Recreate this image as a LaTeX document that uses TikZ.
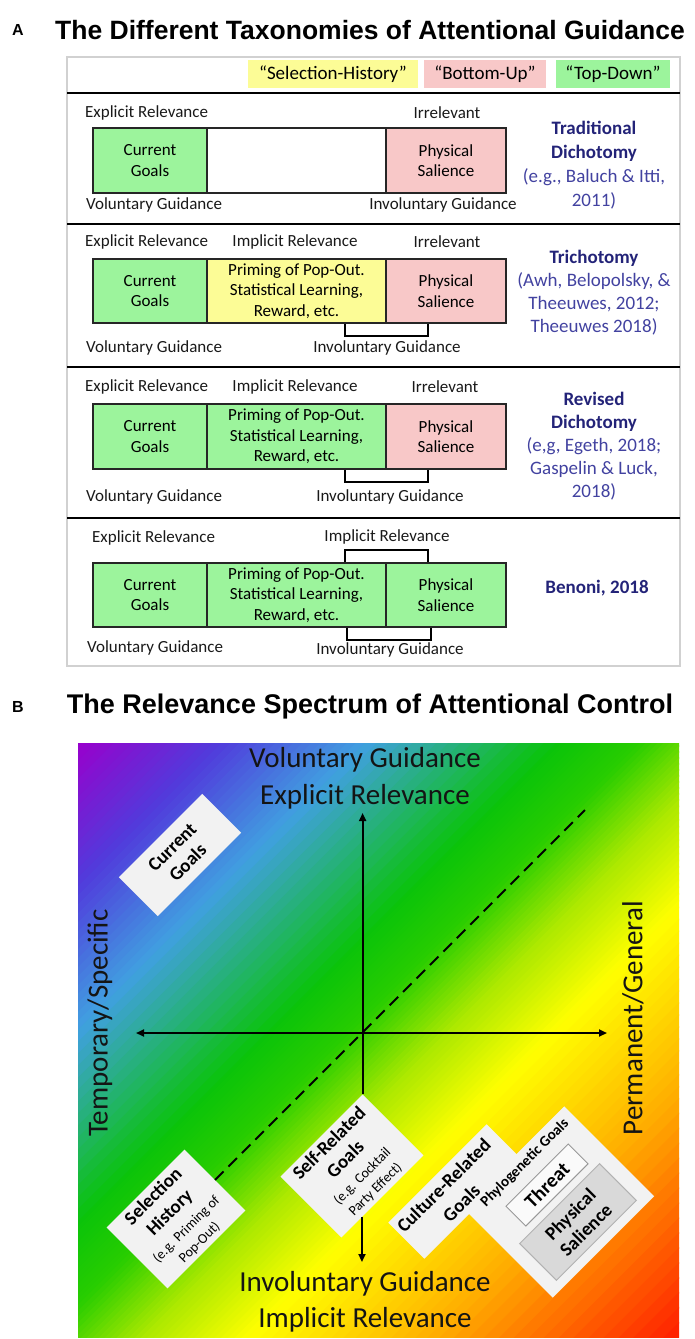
\documentclass[tikz,border=0pt]{standalone}
\usepackage{fontspec}
\setmainfont{Carlito}
\newfontfamily\arialfont{Liberation Sans}
\usetikzlibrary{arrows.meta,calc}
\newcommand{\fsz}[2]{\fontsize{#1}{#2}\selectfont}
\definecolor{cgreen}{RGB}{156,244,156}
\definecolor{cpink}{RGB}{248,200,200}
\definecolor{cyellow}{RGB}{252,252,150}
\definecolor{navy}{RGB}{35,35,120}
\definecolor{citeblue}{RGB}{66,66,160}
\definecolor{diafill}{RGB}{242,242,242}
\definecolor{g0}{RGB}{153,0,204}
\definecolor{g1}{RGB}{80,60,220}
\definecolor{g2}{RGB}{64,160,224}
\definecolor{g3}{RGB}{10,195,10}
\definecolor{g4}{RGB}{40,205,0}
\definecolor{g5}{RGB}{170,232,0}
\definecolor{g6}{RGB}{255,255,0}
\definecolor{g7}{RGB}{255,170,0}
\definecolor{g8}{RGB}{255,30,0}
\begin{document}
\begin{tikzpicture}[x=1pt,y=-1pt,
  lbl/.style={font=\fsz{17}{20}, inner sep=0pt, text=black!90},
  cell/.style={draw=black!85, line width=1.1pt, inner sep=0pt, align=center, font=\fsz{17}{20.5}},
  leg/.style={minimum height=28pt, inner sep=0pt, font=\fsz{19}{22}},
  cite/.style={align=center, inner sep=0pt, text=citeblue},
  sepline/.style={line width=2.2pt},
  brk/.style={line width=2pt},
  big/.style={font=\fsz{29}{34}, inner sep=0pt, text=black!92},
  dbox/.style={fill=diafill, rotate=45, inner sep=0pt, align=center},
  axisline/.style={line width=1.8pt},
  tip/.style={-{Triangle[length=8pt,width=7pt]}},
  dashline/.style={line width=2pt, dash pattern=on 12pt off 7pt}
]
\useasboundingbox (0,0) rectangle (694,1339);

% ---------------- Panel A ----------------
\node[inner sep=0pt, font=\arialfont\bfseries\fsz{16}{18}] (labA) at (18,30) {A};
\node[inner sep=0pt, font=\arialfont\bfseries\fsz{26.5}{30}] (titleA) at (370,30) {The Different Taxonomies of Attentional Guidance};
\node[draw=black!18, line width=1.5pt, minimum width=613pt, minimum height=609pt, inner sep=0pt] (panelA) at (373.5,361.5) {};

\node[leg, fill=cyellow, minimum width=170pt] (lg1) at (333,74) {“Selection-History”};
\node[leg, fill=cpink, minimum width=122pt] (lg2) at (485,74) {“Bottom-Up”};
\node[leg, fill=cgreen, minimum width=114pt] (lg3) at (613,74) {“Top-Down”};

\foreach \yy in {93,224,367,518} {\draw[sepline] (67,\yy) -- (680,\yy);}

% Section 1
\node[lbl, anchor=west] (e1) at (85,113) {Explicit Relevance};
\node[lbl] (ir1) at (447,113) {Irrelevant};
\node[cell, fill=cgreen, minimum width=114pt, minimum height=65pt] (s1a) at (150,160.5) {Current\\Goals};
\node[cell, minimum width=179pt, minimum height=65pt] (s1b) at (296.5,160.5) {};
\node[cell, fill=cpink, minimum width=120pt, minimum height=65pt] (s1c) at (446,160.5) {Physical\\Salience};
\node[lbl, anchor=west] (v1) at (86,205) {Voluntary Guidance};
\node[lbl] (iv1) at (443,205) {Involuntary Guidance};
\node[cite, font=\fsz{19}{24}] (r1) at (594,165) {\textcolor{navy}{\bfseries Traditional}\\\textcolor{navy}{\bfseries Dichotomy}\\(e.g., Baluch \& Itti,\\2011)};

% Section 2
\node[lbl, anchor=west] (e2) at (85,242) {Explicit Relevance};
\node[lbl] (im2) at (295,242) {Implicit Relevance};
\node[lbl] (ir2) at (447,242) {Irrelevant};
\node[cell, fill=cgreen, minimum width=114pt, minimum height=64pt] (s2a) at (150,291) {Current\\Goals};
\node[cell, fill=cyellow, minimum width=179pt, minimum height=64pt] (s2b) at (296.5,291) {Priming of Pop-Out.\\Statistical Learning,\\Reward, etc.};
\node[cell, fill=cpink, minimum width=120pt, minimum height=64pt] (s2c) at (446,291) {Physical\\Salience};
\draw[brk] ($(s2b.south west)!0.77!(s2b.south east)$) -- ++(0,12) -| ($(s2c.south west)!0.35!(s2c.south east)$);
\node[lbl, anchor=west] (v2) at (86,348) {Voluntary Guidance};
\node[lbl] (iv2) at (387,348) {Involuntary Guidance};
\node[cite, font=\fsz{19}{23}] (r2) at (594,292.5) {\textcolor{navy}{\bfseries Trichotomy}\\(Awh, Belopolsky, \&\\Theeuwes, 2012;\\Theeuwes 2018)};

% Section 3
\node[lbl, anchor=west] (e3) at (85,387) {Explicit Relevance};
\node[lbl] (im3) at (295,387) {Implicit Relevance};
\node[lbl] (ir3) at (445,387) {Irrelevant};
\node[cell, fill=cgreen, minimum width=114pt, minimum height=65pt] (s3a) at (150,436.5) {Current\\Goals};
\node[cell, fill=cgreen, minimum width=179pt, minimum height=65pt] (s3b) at (296.5,436.5) {Priming of Pop-Out.\\Statistical Learning,\\Reward, etc.};
\node[cell, fill=cpink, minimum width=120pt, minimum height=65pt] (s3c) at (446,436.5) {Physical\\Salience};
\draw[brk] ($(s3b.south west)!0.77!(s3b.south east)$) -- ++(0,12) -| ($(s3c.south west)!0.35!(s3c.south east)$);
\node[lbl, anchor=west] (v3) at (86,497) {Voluntary Guidance};
\node[lbl] (iv3) at (390,497) {Involuntary Guidance};
\node[cite, font=\fsz{19}{23}] (r3) at (594,446.5) {\textcolor{navy}{\bfseries Revised}\\\textcolor{navy}{\bfseries Dichotomy}\\(e,g, Egeth, 2018;\\Gaspelin \& Luck,\\2018)};

% Section 4
\node[lbl, anchor=west] (e4) at (92,538) {Explicit Relevance};
\node[lbl] (im4) at (387,537) {Implicit Relevance};
\node[cell, fill=cgreen, minimum width=114pt, minimum height=64pt] (s4a) at (150,595) {Current\\Goals};
\node[cell, fill=cgreen, minimum width=179pt, minimum height=64pt] (s4b) at (296.5,595) {Priming of Pop-Out.\\Statistical Learning,\\Reward, etc.};
\node[cell, fill=cgreen, minimum width=120pt, minimum height=64pt] (s4c) at (446,595) {Physical\\Salience};
\draw[brk] ($(s4b.north west)!0.77!(s4b.north east)$) -- ++(0,-12) -| ($(s4c.north west)!0.35!(s4c.north east)$);
\draw[brk] ($(s4b.south west)!0.78!(s4b.south east)$) -- ++(0,12) -| ($(s4c.south west)!0.38!(s4c.south east)$);
\node[lbl, anchor=west] (v4) at (87,648) {Voluntary Guidance};
\node[lbl] (iv4) at (390,650) {Involuntary Guidance};
\node[cite, font=\fsz{19}{23}] (r4) at (597,588) {\textcolor{navy}{\bfseries Benoni, 2018}};

% ---------------- Panel B ----------------
\node[inner sep=0pt, font=\arialfont\bfseries\fsz{16}{18}] (labB) at (18,707) {B};
\node[inner sep=0pt, font=\arialfont\bfseries\fsz{27}{30}] (titleB) at (370,707) {The Relevance Spectrum of Attentional Control};

\begin{scope}
\clip (78,743) rectangle (679,1337);
\foreach \ta/\tb/\ca/\cb in {0/0.12/g0/g1, 0.12/0.24/g1/g2, 0.24/0.40/g2/g3, 0.40/0.47/g3/g4, 0.47/0.55/g4/g5, 0.55/0.64/g5/g6, 0.64/0.80/g6/g7, 0.80/1.0/g7/g8} {
  \foreach \k in {0,...,15} {
    \pgfmathsetmacro\sa{(\ta+(\tb-\ta)*\k/16)*1195}
    \pgfmathsetmacro\sb{(\ta+(\tb-\ta)*(\k+1)/16)*1195+1.5}
    \pgfmathtruncatemacro\pp{(\k+0.5)*100/16}
    \fill[\cb!\pp!\ca] (78+\sa,743) -- (78+\sb,743) -- (78,743+\sb) -- (78,743+\sa) -- cycle;
  }
}
\end{scope}

\node[big] (vg) at (365,760) {Voluntary Guidance};
\node[big] (er) at (365,797) {Explicit Relevance};
\node[big] (ig) at (365,1284) {Involuntary Guidance};
\node[big] (irb) at (365,1320) {Implicit Relevance};
\node[big, rotate=90] (ts) at (100,1023) {Temporary/Specific};
\node[big, rotate=90] (pg) at (633,1018) {Permanent/General};

% diamonds (shapes only first)
\node[dbox, minimum width=118pt, minimum height=55pt, font=\bfseries\fsz{19}{22}] (cg) at (180,855) {Current\\Goals};
\node[dbox, minimum width=110pt, minimum height=86pt] (sh) at (176,1219) {};
\node[dbox, minimum width=116pt, minimum height=86pt] (sr) at (352,1166) {};
\node[dbox, minimum width=139pt, minimum height=51pt] (cr) at (455.5,1191.5) {};
\node[dbox, minimum width=143.5pt, minimum height=127pt] (ph) at (558.5,1202) {};

% connectors
\coordinate (vtop) at (362,813);
\coordinate (hl) at (136,1033);
\coordinate (hr) at (607,1033);
\coordinate (vbot) at (362,1262);
\coordinate (dtop) at (585,810);
\coordinate (vbot0) at ($(sr.south west)!0.25!(sr.south east)$);
\draw[axisline, tip] (sr.north east) -- (sr.north east |- vtop);
\draw[axisline, {Triangle[length=8pt,width=7pt]}-{Triangle[length=8pt,width=7pt]}] (hl) -- (hr);
\draw[axisline, tip] (vbot0) -- (vbot0 |- vbot);
\draw[dashline] (sh.east) -- (dtop);

% texts in diamonds
\node[rotate=45, inner sep=0pt, align=center, font=\bfseries\fsz{19}{23}] (sht) at (sh) {Selection\\History\\[-1pt]{\mdseries\fsz{14}{17}(e.g. Priming of}\\[-4.5pt]{\mdseries\fsz{14}{17}Pop-Out)}};
\node[rotate=45, inner sep=0pt, align=center, font=\bfseries\fsz{19}{23}] (srt) at (sr) {Self-Related\\Goals\\[-1pt]{\mdseries\fsz{14}{17}(e.g. Cocktail}\\[-4.5pt]{\mdseries\fsz{14}{17}Party Effect)}};
\node[rotate=45, inner sep=0pt, align=center, font=\bfseries\fsz{19}{25}] (crt) at (452.5,1194) {Culture-Related\\Goals};
\node[rotate=45, inner sep=0pt, font=\bfseries\fsz{15}{18}] (pht) at (525,1163) {Phylogenetic Goals};
\node[dbox, fill=black!2, draw=black!40, line width=1pt, minimum width=88pt, minimum height=28pt, font=\bfseries\fsz{20}{22}] (th) at (547,1185) {Threat};
\node[dbox, fill=black!15, draw=black!30, line width=1pt, minimum width=113pt, minimum height=52pt, font=\bfseries\fsz{19}{22}] (ps) at (578,1222) {Physical\\Salience};
\end{tikzpicture}
\end{document}
